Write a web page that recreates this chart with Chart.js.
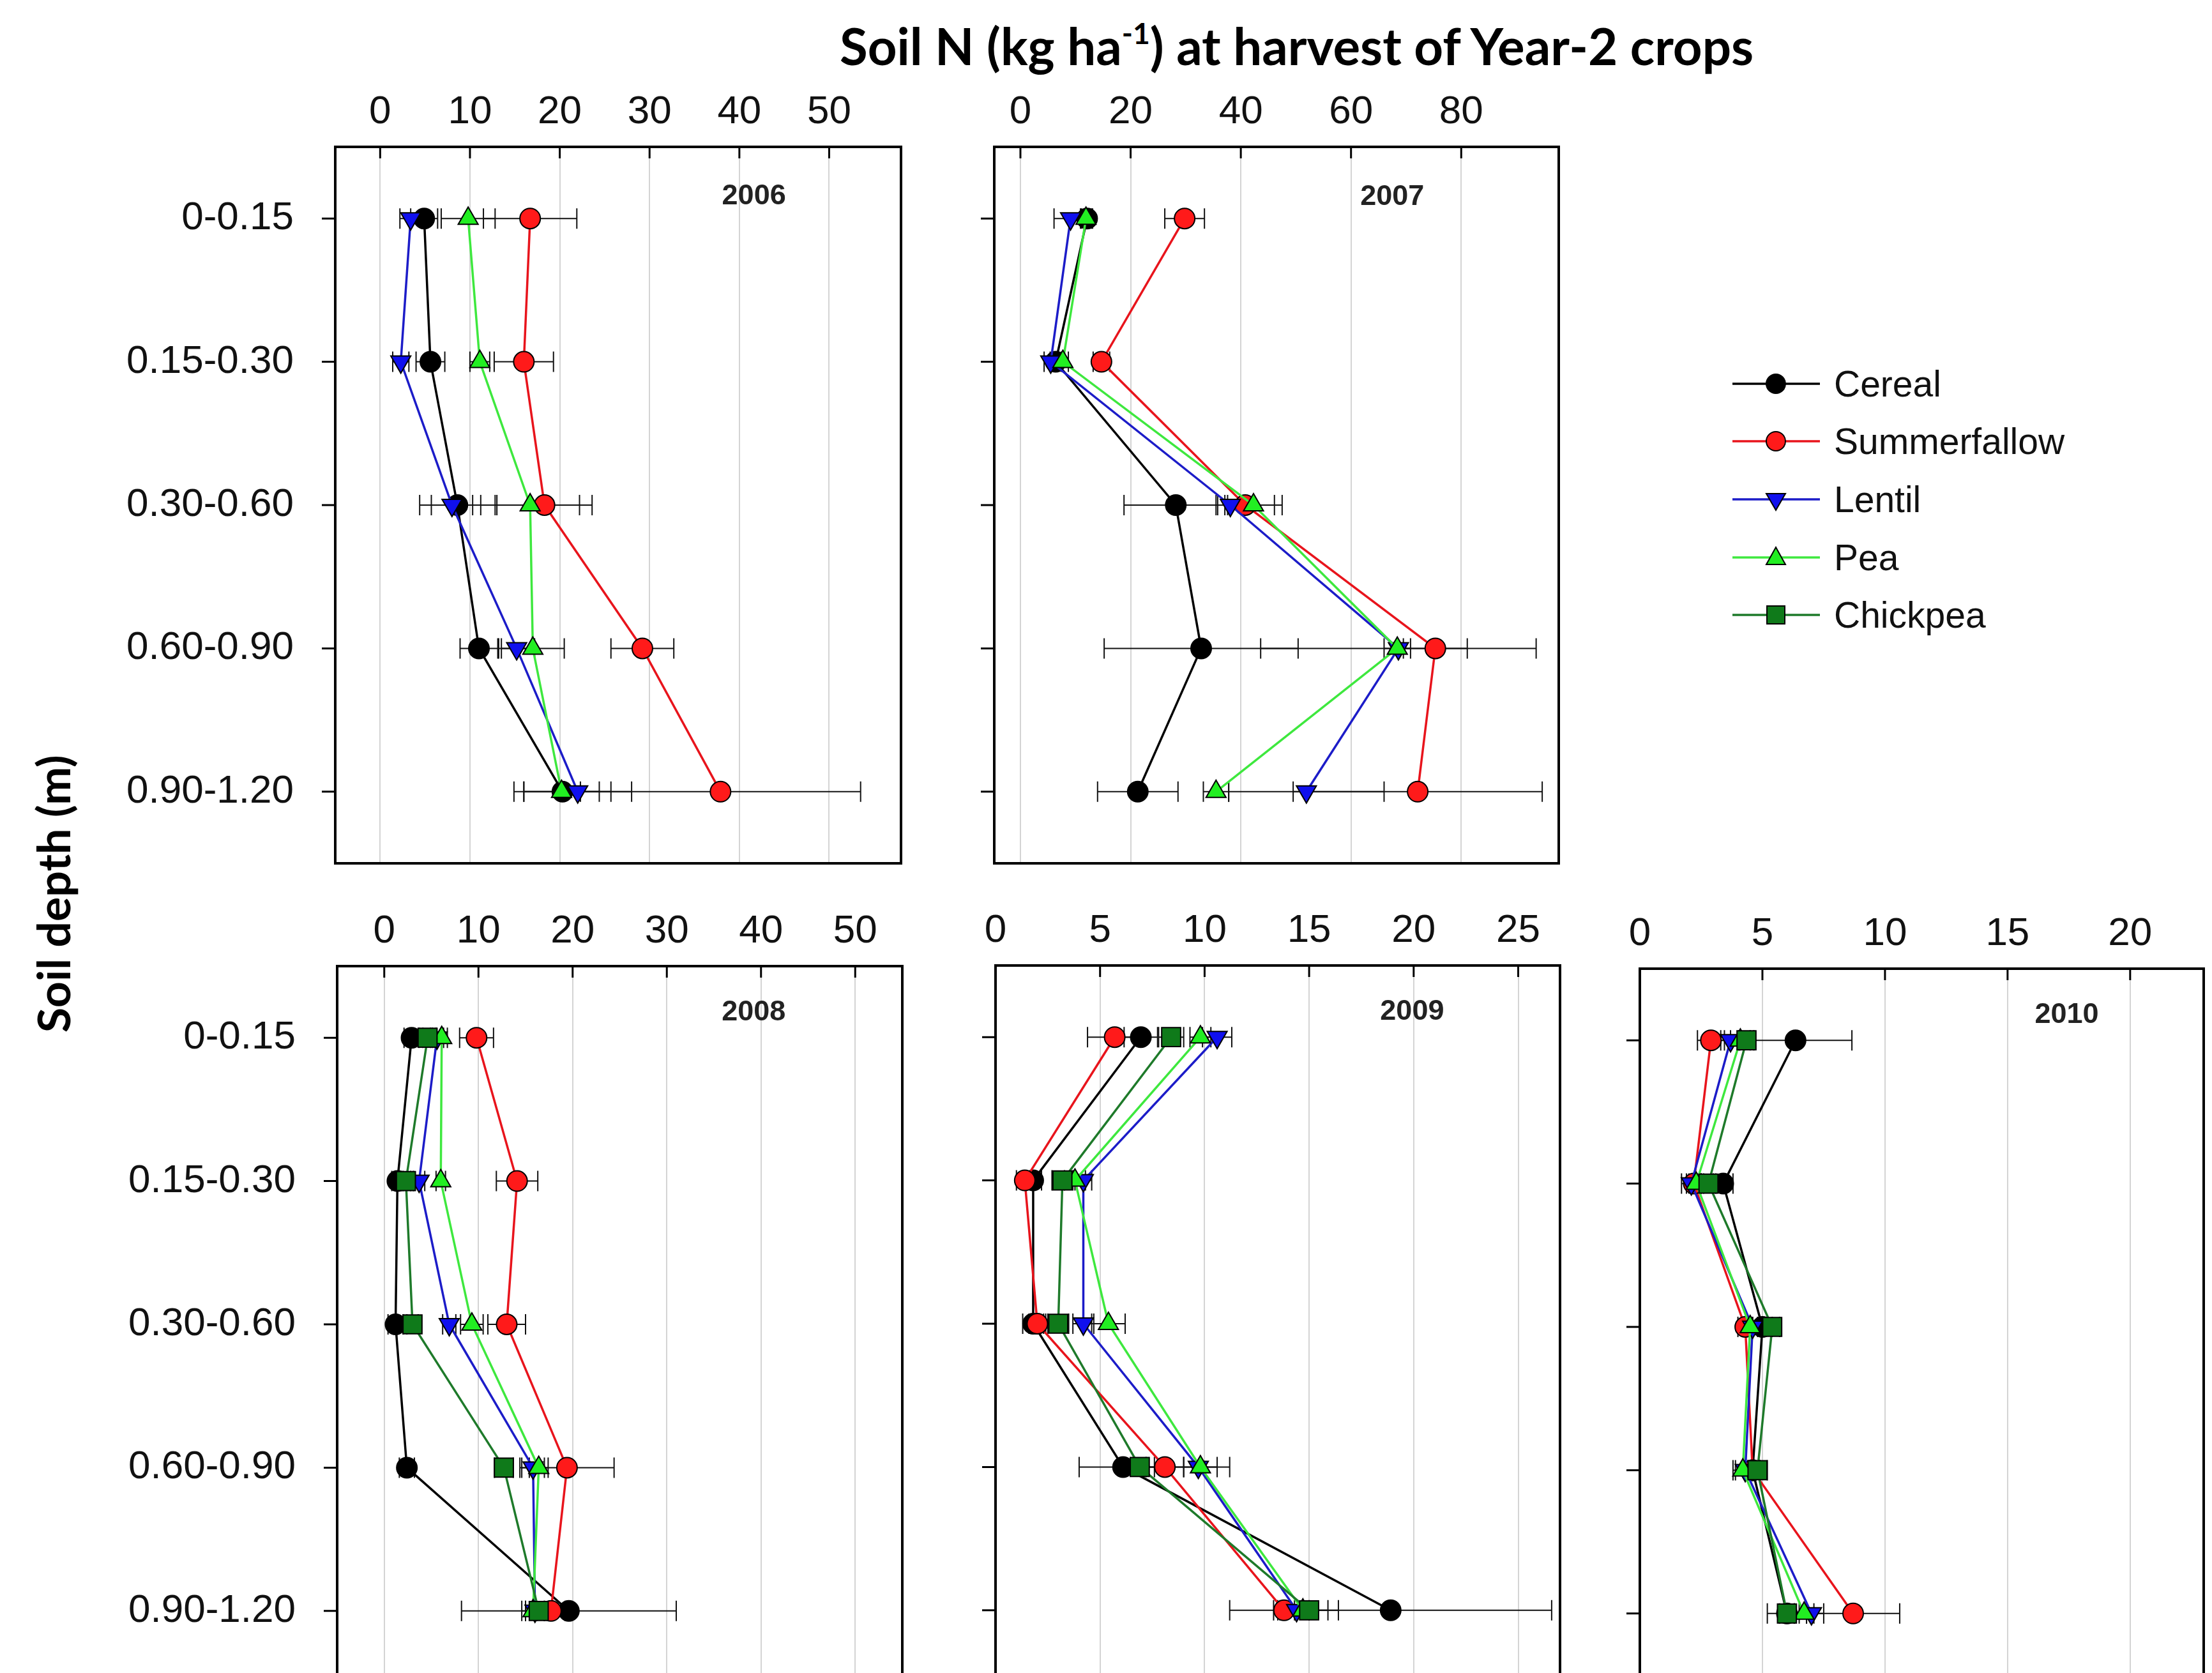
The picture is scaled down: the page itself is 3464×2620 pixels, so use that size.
<!DOCTYPE html>
<html>
<head>
<meta charset="utf-8">
<script src="https://cdn.jsdelivr.net/npm/chart.js@4.4.1/dist/chart.umd.min.js"></script>
<style>
  html, body { margin: 0; padding: 0; background: #fff; }
  body { width: 3464px; height: 2620px; overflow: hidden; position: relative; }
  canvas { position: absolute; }
  .title { position: absolute; font-family: Lato, "Open Sans", sans-serif; font-weight: 700; color: #000; white-space: nowrap; line-height: 1; }
  .title sup { font-size: 0.58em; vertical-align: 0.72em; line-height: 0; }
  .legend-row { position: absolute; height: 44px; display: flex; align-items: center; }
  .legend-row span { font-family: "Liberation Sans", Arial, sans-serif; font-size: 57px; color: #111; margin-left: 22px; }
</style>
</head>
<body>
<div id="mainTitle" class="title">Soil N (kg ha<sup>-1</sup>) at harvest of Year-2 crops</div>
<div id="yTitle" class="title">Soil depth (m)</div>
<div id="legend"></div>

<script>
// depth classes and crops
const depths = ['0-0.15', '0.15-0.30', '0.30-0.60', '0.60-0.90', '0.90-1.20'];
const crops = ['Cereal', 'Summerfallow', 'Lentil', 'Pea', 'Chickpea'];

// soil N (kg/ha) per crop, rows = crops, cols = depths
const n2006 = [
  [4.9, 5.6, 8.6, 11.0, 20.3],
  [16.7, 16.0, 18.3, 29.2, 37.9],
  [3.4, 2.3, 8.0, 15.2, 22.0],
  [9.8, 11.1, 16.7, 17.0, 20.2]
];
const se2006 = [
  [1.5, 1.6, 4.2, 2.1, 5.4],
  [5.2, 3.3, 5.3, 3.5, 15.6],
  [1.2, 0.9, 2.3, 2.0, 6.0],
  [3.0, 1.1, 5.5, 3.5, 4.2]
];

const n2007 = [
  [12.1, 6.4, 28.2, 32.8, 21.3],
  [29.8, 14.7, 40.8, 75.3, 72.1],
  [9.1, 5.5, 38.1, 68.6, 51.9],
  [11.9, 7.7, 42.3, 68.4, 35.5]
];
const se2007 = [
  [1.0, 1.0, 9.4, 17.6, 7.3],
  [3.6, 1.5, 5.3, 5.8, 22.6],
  [3.0, 1.2, 2.3, 25.0, 14.1],
  [1.0, 1.0, 5.2, 2.4, 2.3]
];

const n2008 = [
  [2.9, 1.4, 1.2, 2.4, 19.6],
  [9.8, 14.1, 13.0, 19.4, 17.7],
  [5.6, 3.7, 6.9, 15.8, 16.0],
  [6.1, 6.0, 9.3, 16.4, 15.8],
  [4.6, 2.3, 3.0, 12.7, 16.4]
];
const se2008 = [
  [0.8, 0.6, 0.8, 0.8, 11.4],
  [1.8, 2.2, 2.0, 5.0, 1.5],
  [0.7, 0.6, 0.7, 1.2, 1.0],
  [0.6, 0.5, 1.2, 1.0, 1.2],
  [0.5, 0.5, 0.6, 1.0, 1.4]
];

const n2009 = [
  [6.95, 1.8, 1.8, 6.1, 18.9],
  [5.7, 1.4, 2.0, 8.1, 13.8],
  [10.6, 4.2, 4.2, 9.7, 14.4],
  [9.8, 3.8, 5.4, 9.8, 14.7],
  [8.4, 3.2, 3.0, 6.9, 15.0]
];
const se2009 = [
  [0.8, 0.4, 0.5, 2.1, 7.7],
  [1.3, 0.4, 0.4, 0.9, 0.5],
  [0.7, 0.4, 0.5, 1.5, 0.6],
  [0.5, 0.5, 0.8, 0.8, 1.2],
  [0.6, 0.5, 0.5, 0.7, 1.4]
];

const n2010 = [
  [6.35, 3.4, 5.0, 4.6, 6.0],
  [2.9, 2.2, 4.3, 4.6, 8.7],
  [3.7, 2.1, 4.6, 4.3, 7.0],
  [4.1, 2.3, 4.5, 4.2, 6.7],
  [4.35, 2.8, 5.4, 4.8, 6.0]
];
const se2010 = [
  [2.3, 0.4, 0.4, 0.3, 0.8],
  [0.55, 0.3, 0.3, 0.3, 1.9],
  [0.4, 0.4, 0.3, 0.4, 0.5],
  [0.4, 0.3, 0.3, 0.4, 0.4],
  [0.3, 0.3, 0.3, 0.4, 0.3]
];

// look of each crop series
const styles = [
  { line: '#000000', fill: '#000000', shape: 'circle', r: 16, rot: 0 },
  { line: '#e8141c', fill: '#ff1a1a', shape: 'circle', r: 16, rot: 0 },
  { line: '#1c1cc8', fill: '#1010ee', shape: 'triangle', r: 18, rot: 180 },
  { line: '#3ee83e', fill: '#22ee22', shape: 'triangle', r: 18, rot: 0 },
  { line: '#1e7a2a', fill: '#0f7a1a', shape: 'rect', r: 21, rot: 0 }
];

// panel layout: box = [left, top, right, bottom] of the plot frame in page px
const panels = [
  { year: '2006', vals: n2006, errs: se2006, xmin: -5, xmax: 58, ticks: [0, 10, 20, 30, 40, 50], box: [525, 230, 1411, 1352], ylabels: true, yearPos: [0.74, 0.069] },
  { year: '2007', vals: n2007, errs: se2007, xmin: -4.75, xmax: 97.7, ticks: [0, 20, 40, 60, 80], box: [1557, 230, 2441, 1352], ylabels: false, yearPos: [0.705, 0.07] },
  { year: '2008', vals: n2008, errs: se2008, xmin: -5, xmax: 55, ticks: [0, 10, 20, 30, 40, 50], box: [528, 1513, 1413, 2635], ylabels: true, yearPos: [0.737, 0.065] },
  { year: '2009', vals: n2009, errs: se2009, xmin: 0, xmax: 27, ticks: [0, 5, 10, 15, 20, 25], box: [1559, 1512, 2443, 2634], ylabels: false, yearPos: [0.738, 0.065] },
  { year: '2010', vals: n2010, errs: se2010, xmin: 0, xmax: 23, ticks: [0, 5, 10, 15, 20], box: [2568, 1517, 3451, 2639], ylabels: false, yearPos: [0.757, 0.065] }
];

// error bars under the points, frame + tick marks + year on top
const framePlugin = {
  id: 'frame',
  beforeDatasetsDraw(chart) {
    const ctx = chart.ctx;
    const xs = chart.scales.x, ys = chart.scales.y;
    ctx.save();
    ctx.strokeStyle = '#111';
    ctx.lineWidth = 2;
    chart.data.datasets.forEach(ds => {
      ds.data.forEach(p => {
        const y = ys.getPixelForValue(p.y);
        const x1 = xs.getPixelForValue(p.x - p.e);
        const x2 = xs.getPixelForValue(p.x + p.e);
        ctx.beginPath();
        ctx.moveTo(x1, y); ctx.lineTo(x2, y);
        ctx.moveTo(x1, y - 16); ctx.lineTo(x1, y + 16);
        ctx.moveTo(x2, y - 16); ctx.lineTo(x2, y + 16);
        ctx.stroke();
      });
    });
    ctx.restore();
  },
  afterDraw(chart, args, opts) {
    const ctx = chart.ctx;
    const a = chart.chartArea;
    const xs = chart.scales.x, ys = chart.scales.y;
    ctx.save();
    ctx.strokeStyle = '#000';
    ctx.lineWidth = 3;
    ctx.beginPath();
    xs.ticks.forEach(t => {
      const x = xs.getPixelForValue(t.value);
      if (x > a.left + 3) { ctx.moveTo(x, a.top); ctx.lineTo(x, a.top + 18); }
    });
    ys.ticks.forEach(t => {
      const y = ys.getPixelForValue(t.value);
      ctx.moveTo(a.left - 21, y); ctx.lineTo(a.left, y);
    });
    ctx.stroke();
    ctx.lineWidth = 4;
    ctx.strokeRect(a.left, a.top, a.right - a.left, a.bottom - a.top);
    ctx.fillStyle = '#222';
    ctx.font = 'bold 45px "Liberation Sans", Arial, sans-serif';
    ctx.textAlign = 'center';
    ctx.textBaseline = 'middle';
    ctx.fillText(opts.year, a.left + opts.pos[0] * (a.right - a.left), a.top + opts.pos[1] * (a.bottom - a.top));
    ctx.restore();
  }
};

function makePanel(p) {
  const boxW = p.box[2] - p.box[0];
  const boxH = p.box[3] - p.box[1];
  const padL = p.ylabels ? p.box[0] - 170 : 50;
  const padT = 120;
  const canvas = document.createElement('canvas');
  let w = padL + boxW + 12;
  let h = padT + boxH + 12;
  canvas.width = w;
  canvas.height = h;
  canvas.style.left = (p.box[0] - padL) + 'px';
  canvas.style.top = (p.box[1] - padT) + 'px';
  document.body.appendChild(canvas);

  const datasets = p.vals.map((row, c) => {
    const s = styles[c];
    return {
      label: crops[c],
      data: row.map((v, i) => ({ x: v, y: i, e: p.errs[c][i] })),
      showLine: true,
      borderColor: s.line,
      borderWidth: 3.5,
      pointStyle: s.shape,
      pointRotation: s.rot,
      pointRadius: s.r,
      pointBackgroundColor: s.fill,
      pointBorderColor: '#000',
      pointBorderWidth: 2,
      order: 5 - c
    };
  });

  const chart = new Chart(canvas, {
    type: 'scatter',
    data: { datasets: datasets },
    options: {
      responsive: false,
      maintainAspectRatio: false,
      animation: false,
      devicePixelRatio: 1,
      layout: { padding: { left: 0, top: 0, right: 12, bottom: 12 } },
      plugins: {
        legend: { display: false },
        tooltip: { enabled: false },
        frame: { year: p.year, pos: p.yearPos }
      },
      scales: {
        x: {
          type: 'linear',
          position: 'top',
          min: p.xmin,
          max: p.xmax,
          afterBuildTicks: s => { s.ticks = p.ticks.map(v => ({ value: v })); },
          afterFit: s => { s.height = padT; s.paddingLeft = 0; s.paddingRight = 0; },
          grid: { color: '#d4d4d4', lineWidth: 2, drawTicks: false },
          border: { display: false },
          ticks: {
            autoSkip: false,
            maxRotation: 0,
            padding: 17,
            color: '#111',
            font: { family: '"Liberation Sans", Arial, sans-serif', size: 62 }
          }
        },
        y: {
          type: 'linear',
          reverse: true,
          min: -0.5,
          max: 4.5,
          afterBuildTicks: s => { s.ticks = depths.map((d, i) => ({ value: i })); },
          afterFit: s => { s.width = padL; s.paddingTop = 0; s.paddingBottom = 0; },
          grid: { display: false },
          border: { display: false },
          ticks: {
            display: p.ylabels,
            padding: 57,
            color: '#111',
            callback: v => depths[v],
            font: { family: '"Liberation Sans", Arial, sans-serif', size: 62 }
          }
        }
      }
    },
    plugins: [framePlugin]
  });

  // make the plot frame land exactly on the measured box
  const dR = (padL + boxW) - chart.chartArea.right;
  const dB = (padT + boxH) - chart.chartArea.bottom;
  if (Math.abs(dR) > 0.5 || Math.abs(dB) > 0.5) {
    w = Math.round(w + dR);
    h = Math.round(h + dB);
    chart.resize(w, h);
  }
}

panels.forEach(makePanel);

// legend on the right
const legendRows = [601, 691, 782, 873, 963];
const legend = document.getElementById('legend');
crops.forEach((name, c) => {
  const s = styles[c];
  let mark;
  if (s.shape === 'circle') {
    mark = `<circle cx="68" cy="22" r="15" fill="${s.fill}" stroke="#000" stroke-width="2"/>`;
  } else if (s.shape === 'rect') {
    mark = `<rect x="54" y="8" width="28" height="28" fill="${s.fill}" stroke="#000" stroke-width="2"/>`;
  } else if (s.rot === 180) {
    mark = `<polygon points="53,13 83,13 68,39" fill="${s.fill}" stroke="#000" stroke-width="2"/>`;
  } else {
    mark = `<polygon points="53,33 83,33 68,6" fill="${s.fill}" stroke="#000" stroke-width="2"/>`;
  }
  const row = document.createElement('div');
  row.className = 'legend-row';
  row.style.left = '2713px';
  row.style.top = (legendRows[c] - 22) + 'px';
  row.innerHTML = `<svg width="137" height="44"><line x1="0" y1="22" x2="137" y2="22" stroke="${s.line}" stroke-width="3.5"/>${mark}</svg><span>${name}</span>`;
  legend.appendChild(row);
});

// fit the two axis titles to the measured widths
function fitText(el, target, size) {
  el.style.fontSize = size + 'px';
  const w = el.offsetWidth;
  el.style.fontSize = (size * target / w) + 'px';
}

const mainTitle = document.getElementById('mainTitle');
fitText(mainTitle, 1431, 75);
mainTitle.style.left = '1315px';
mainTitle.style.top = (103 - 0.89 * parseFloat(mainTitle.style.fontSize)) + 'px';

const yTitle = document.getElementById('yTitle');
fitText(yTitle, 435, 70);
const yw = yTitle.offsetWidth, yh = yTitle.offsetHeight;
yTitle.style.left = (82 - yw / 2) + 'px';
yTitle.style.top = (1400 - yh / 2) + 'px';
yTitle.style.transform = 'rotate(-90deg)';
</script>
</body>
</html>
